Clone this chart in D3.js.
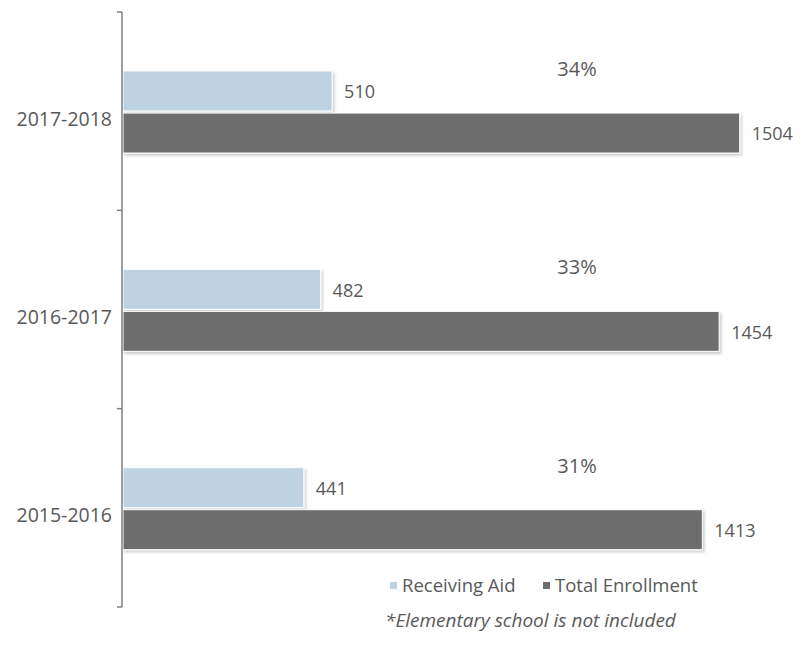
<!DOCTYPE html>
<html><head><meta charset="utf-8">
<script src="https://cdn.jsdelivr.net/npm/d3@7"></script>
<style>body{margin:0;background:#fff}svg{display:block}</style>
</head><body>
<script>
const categories = ["2017-2018", "2016-2017", "2015-2016"];
const receivingAid = [510, 482, 441];
const totalEnrollment = [1504, 1454, 1413];
const percentLabels = ["34%", "33%", "31%"];
const seriesNames = ["Receiving Aid", "Total Enrollment"];
const colors = ["#bdd3e1", "#6d6d6d"];

const W = 803, H = 661;
const svg = d3.select("body").append("svg").attr("width", W).attr("height", H);
const font = "'Open Sans', sans-serif";
const textColor = "#595959";

const defs = svg.append("defs");
const f = defs.append("filter").attr("id", "sh").attr("x", "-5%").attr("y", "-20%").attr("width", "110%").attr("height", "150%");
f.append("feDropShadow").attr("dx", 1.5).attr("dy", 2).attr("stdDeviation", 1.5).attr("flood-color", "#000").attr("flood-opacity", 0.22);

const x = d3.scaleLinear().domain([0, 1600]).range([123, 779]);
const y = d3.scaleBand().domain(categories).range([12, 607]);
const inner = d3.scaleBand().domain(seriesNames).range([59, 141]).paddingInner(0.05);

const g = svg.append("g");
categories.forEach((c, i) => {
  const vals = [receivingAid[i], totalEnrollment[i]];
  vals.forEach((v, j) => {
    const yy = y(c) + inner(seriesNames[j]);
    g.append("rect")
      .attr("x", x(0)).attr("y", yy)
      .attr("width", x(v) - x(0)).attr("height", inner.bandwidth())
      .attr("fill", colors[j]).attr("stroke", "#fff").attr("stroke-width", 1)
      .attr("filter", "url(#sh)");
    g.append("text")
      .attr("x", x(v) + 12).attr("y", yy + inner.bandwidth() / 2 + 1)
      .attr("dy", "0.35em").attr("font-family", font).attr("font-size", 18)
      .attr("fill", textColor).text(v);
  });
  g.append("text")
    .attr("x", 577).attr("y", y(c) + 57)
    .attr("dy", "0.35em")
    .attr("text-anchor", "middle").attr("font-family", font).attr("font-size", 20)
    .attr("fill", textColor).text(percentLabels[i]);
});

const axis = d3.axisLeft(y).tickSize(0).tickPadding(10);
const ax = svg.append("g").attr("transform", "translate(122,0)").call(axis);
ax.select(".domain").remove();
ax.selectAll("text").attr("font-family", font).attr("font-size", 19.5).attr("fill", textColor).attr("dy", "0.75em");
ax.append("line").attr("x1", 0).attr("x2", 0).attr("y1", 12).attr("y2", 607).attr("stroke", "#7f7f7f").attr("stroke-width", 1.5);
const edges = categories.map(c => y(c)).concat([y.range()[1]]);
ax.selectAll(".edge").data(edges).enter().append("line")
  .attr("x1", -5).attr("x2", 0).attr("y1", d => d).attr("y2", d => d)
  .attr("stroke", "#7f7f7f").attr("stroke-width", 1.5);

const lg = svg.append("g");
const legendX = [390, 543];
seriesNames.forEach((s, i) => {
  lg.append("rect").attr("x", legendX[i]).attr("y", 582).attr("width", 7).attr("height", 7).attr("fill", colors[i]);
  lg.append("text").attr("x", legendX[i] + 12).attr("y", 586).attr("dy", "0.35em")
    .attr("font-family", font).attr("font-size", 18.5).attr("fill", textColor).text(s);
});
svg.append("text").attr("x", 385).attr("y", 620).attr("dy", "0.35em")
  .attr("font-family", font).attr("font-size", 19).attr("font-style", "italic")
  .attr("fill", textColor).text("*Elementary school is not included");
</script>
</body></html>
